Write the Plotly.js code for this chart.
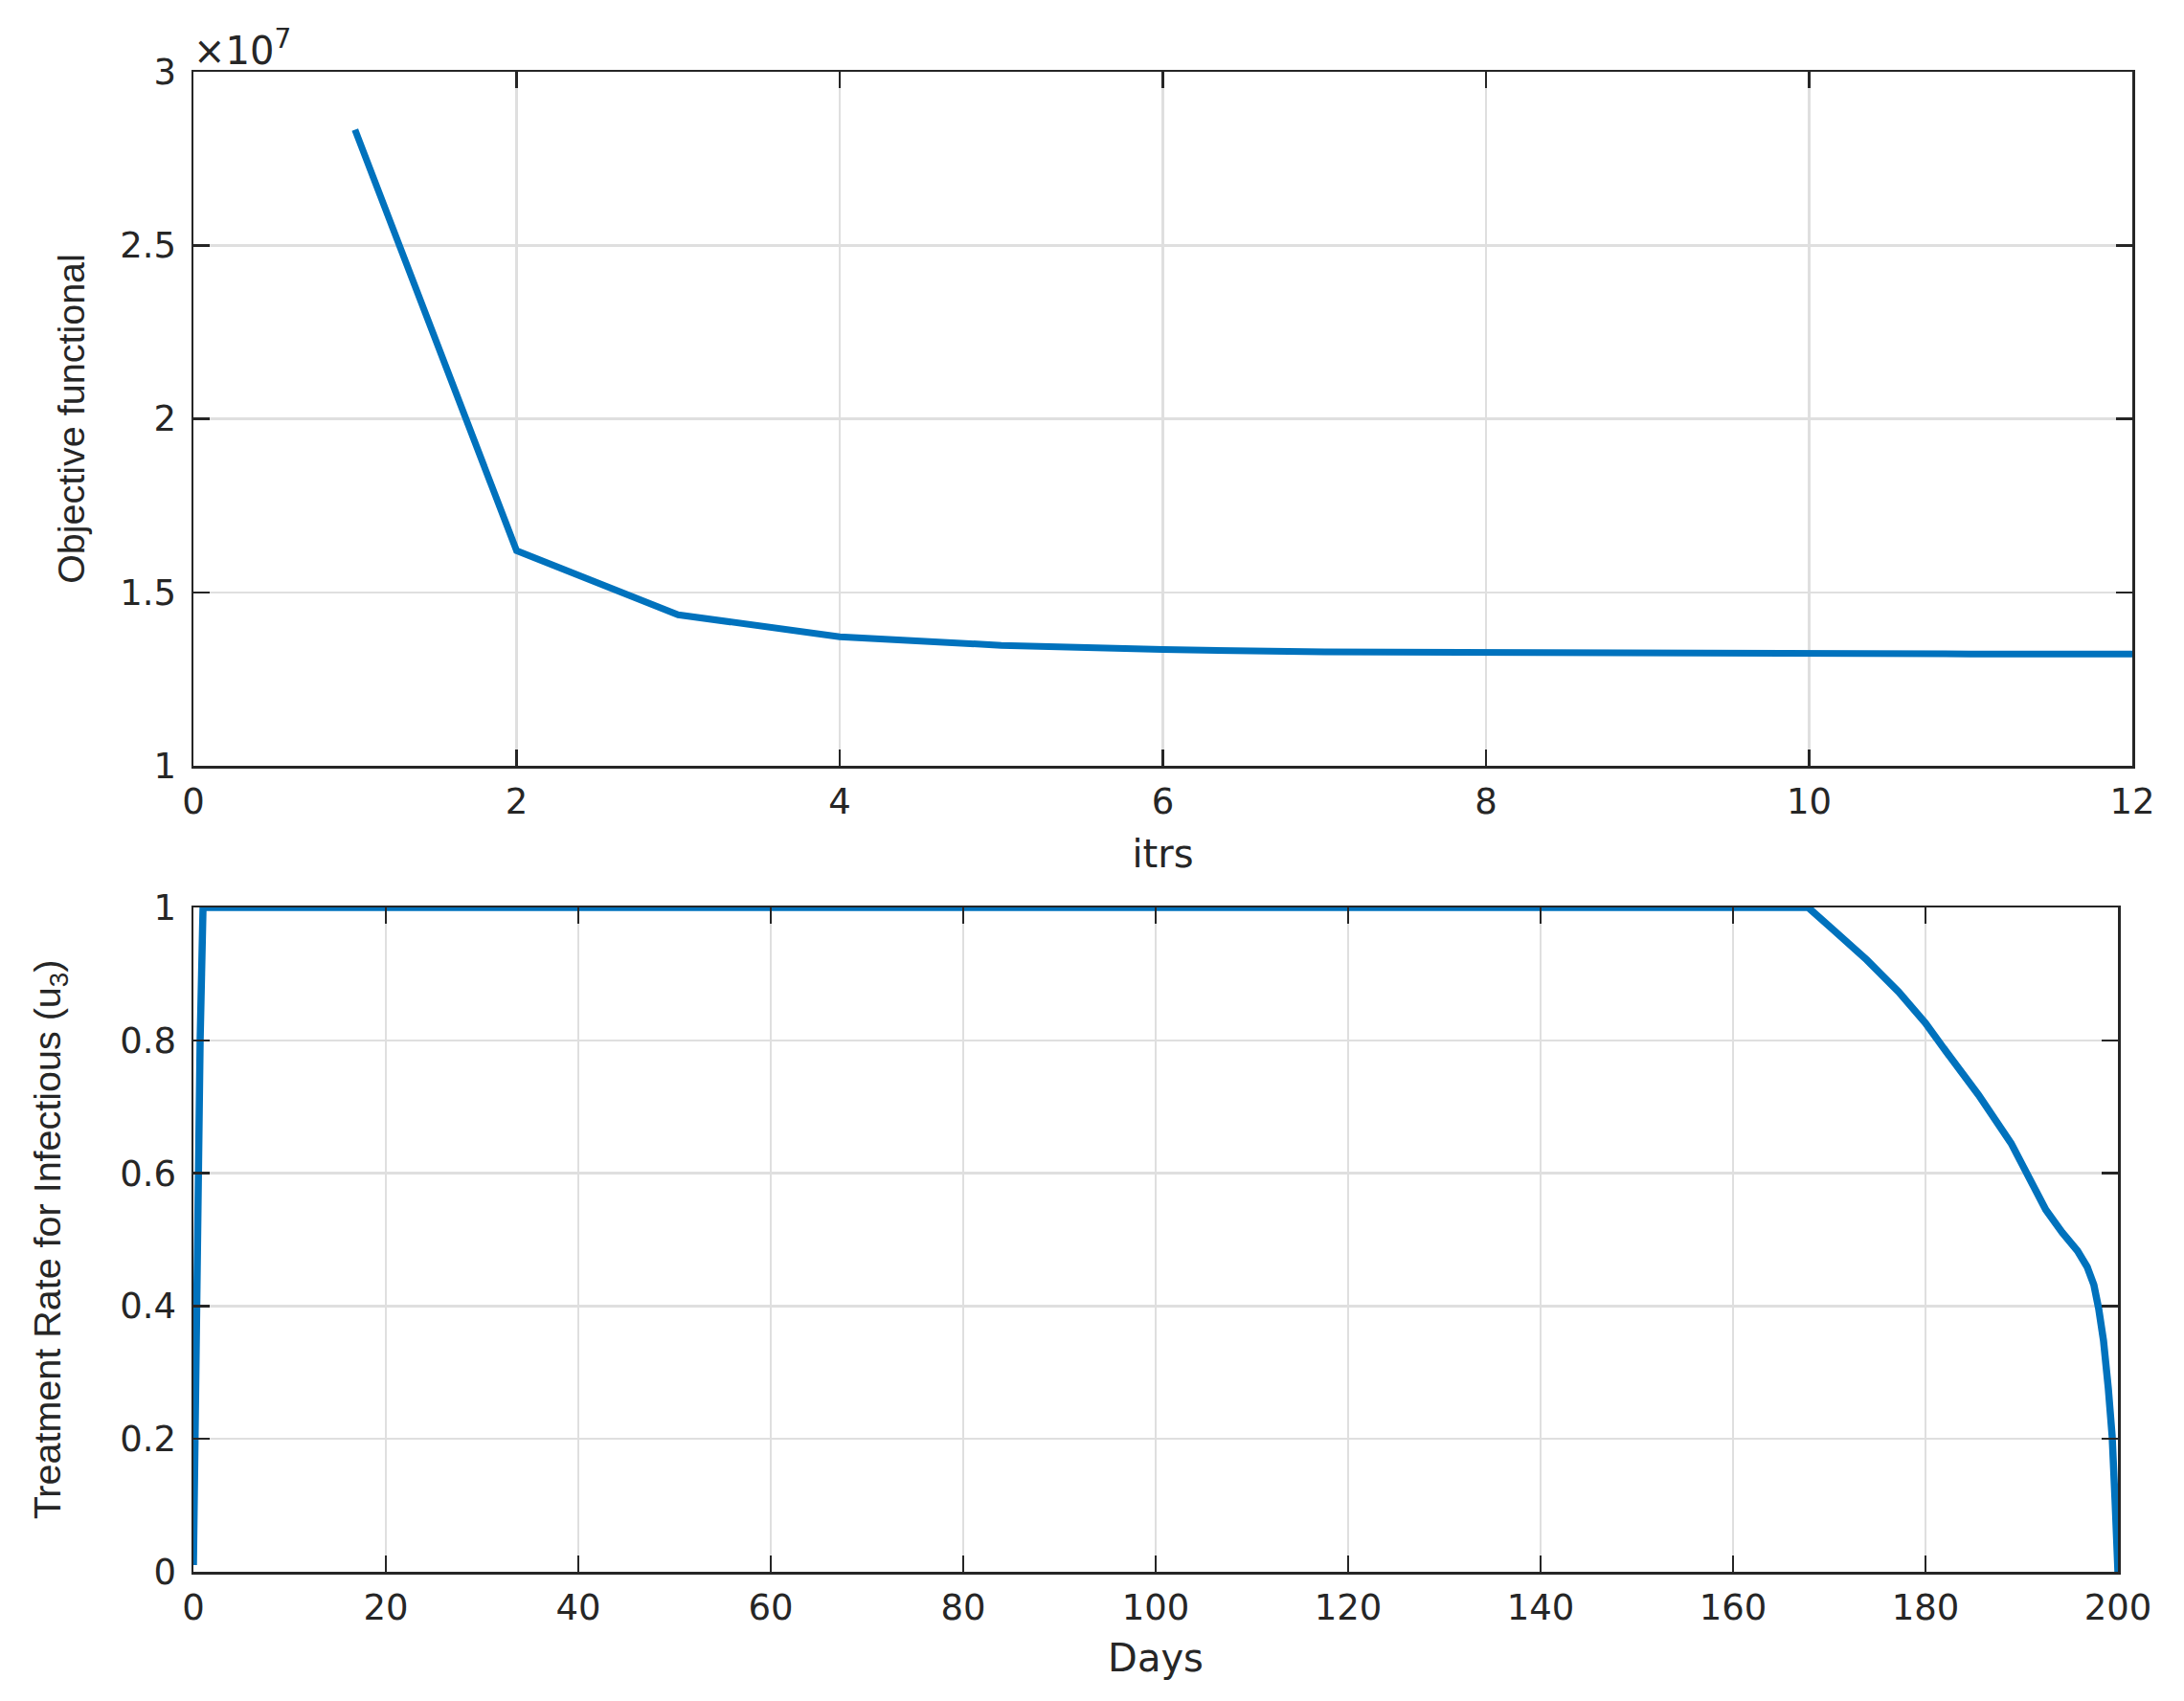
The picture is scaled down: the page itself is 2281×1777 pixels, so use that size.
<!DOCTYPE html>
<html>
<head>
<meta charset="utf-8">
<script src="https://cdn.plot.ly/plotly-3.0.1.min.js"></script>
<style>html,body{margin:0;padding:0;background:#fff;}#chart{width:2281px;height:1777px;}</style>
</head>
<body>
<div id="chart"></div>
<script>
// Top panel: objective functional per iteration
const itrs = [1, 2, 3, 4, 5, 6, 7, 8, 9, 10, 11, 12];
const objective = [2.833e7, 1.62e7, 1.435e7, 1.372e7, 1.347e7, 1.335e7, 1.328e7, 1.3255e7, 1.323e7, 1.3225e7, 1.3222e7, 1.322e7];
const topYTicks = [1e7, 1.5e7, 2e7, 2.5e7, 3e7];
const topYTickText = ['1', '1.5', '2', '2.5', '3'];
const topXTicks = [0, 2, 4, 6, 8, 10, 12];

// Bottom panel: treatment rate u3 over days
const days = [0, 0.13, 0.3, 0.47, 0.7, 1.0, 167.8, 170.6, 173.9, 177.2, 180.0, 182.2, 185.5, 188.9, 190.8, 192.5, 194.2, 195.8, 196.8, 197.5, 198.0, 198.5, 199.0, 199.4, 199.7, 200];
const u3 = [0.01, 0.2, 0.4, 0.6, 0.8, 1.0, 1.0, 0.964, 0.921, 0.873, 0.826, 0.782, 0.718, 0.645, 0.592, 0.545, 0.511, 0.483, 0.459, 0.432, 0.396, 0.348, 0.276, 0.204, 0.108, 0.0];
const bottomXTicks = [0, 20, 40, 60, 80, 100, 120, 140, 160, 180, 200];
const bottomYTicks = [0, 0.2, 0.4, 0.6, 0.8, 1];
const bottomYTickText = ['0', '0.2', '0.4', '0.6', '0.8', '1'];

const W = 2281, H = 1777;
const wideFam = 'DejaVu Sans, Liberation Sans, sans-serif';
const narrowFam = 'Liberation Sans, Arial, Helvetica, sans-serif';
const tickFont = {family: wideFam, size: 37, color: '#262626'};
const xTitleFont = {family: wideFam, size: 40, color: '#262626'};
const yTitleFont = {family: narrowFam, size: 39.5, color: '#262626'};
const lineColor = '#0072BD';

function axisBase() {
  return {
    showline: true, linecolor: '#262626', linewidth: 2.5, mirror: 'ticks',
    ticks: 'inside', ticklen: 17, tickwidth: 2.5, tickcolor: '#262626',
    showgrid: true, gridcolor: '#dfdfdf', gridwidth: 2.5,
    zeroline: false, tickfont: tickFont, automargin: false, fixedrange: true
  };
}

const traces = [
  {x: itrs, y: objective, type: 'scatter', mode: 'lines', xaxis: 'x', yaxis: 'y',
   line: {color: lineColor, width: 7}, hoverinfo: 'skip'},
  {x: days, y: u3, type: 'scatter', mode: 'lines', xaxis: 'x2', yaxis: 'y2',
   line: {color: lineColor, width: 7.5}, hoverinfo: 'skip'}
];

const layout = {
  width: W, height: H,
  margin: {l: 0, r: 0, t: 0, b: 0},
  paper_bgcolor: '#ffffff', plot_bgcolor: '#ffffff',
  showlegend: false,
  xaxis: Object.assign(axisBase(), {
    domain: [202 / W, 2227 / W], range: [0, 12], tickvals: topXTicks,
    anchor: 'y', ticklabelstandoff: 3,
    title: {text: 'itrs', font: xTitleFont, standoff: 20}
  }),
  yaxis: Object.assign(axisBase(), {
    domain: [1 - 800 / H, 1 - 75 / H], range: [1e7, 3e7],
    tickvals: topYTicks, ticktext: topYTickText, anchor: 'x', ticklabelstandoff: 8,
    title: {text: 'Objective functional', font: yTitleFont, standoff: 25}
  }),
  xaxis2: Object.assign(axisBase(), {
    domain: [202 / W, 2212 / W], range: [0, 200], tickvals: bottomXTicks,
    anchor: 'y2', ticklabelstandoff: 3,
    title: {text: 'Days', font: xTitleFont, standoff: 18}
  }),
  yaxis2: Object.assign(axisBase(), {
    domain: [1 - 1642 / H, 1 - 948 / H], range: [0, 1],
    tickvals: bottomYTicks, ticktext: bottomYTickText, anchor: 'x2', ticklabelstandoff: 8,
    title: {text: 'Treatment Rate for Infectious (u<sub>3</sub>)', font: yTitleFont, standoff: 50}
  }),
  annotations: [
    {text: '\u00d710<sup>7</sup>', xref: 'paper', yref: 'paper',
     x: 200 / W, y: 1 - 78 / H, xanchor: 'left', yanchor: 'bottom', showarrow: false,
     font: {family: wideFam, size: 40, color: '#262626'}}
  ]
};

Plotly.newPlot('chart', traces, layout, {displayModeBar: false, staticPlot: true});
</script>
</body>
</html>
